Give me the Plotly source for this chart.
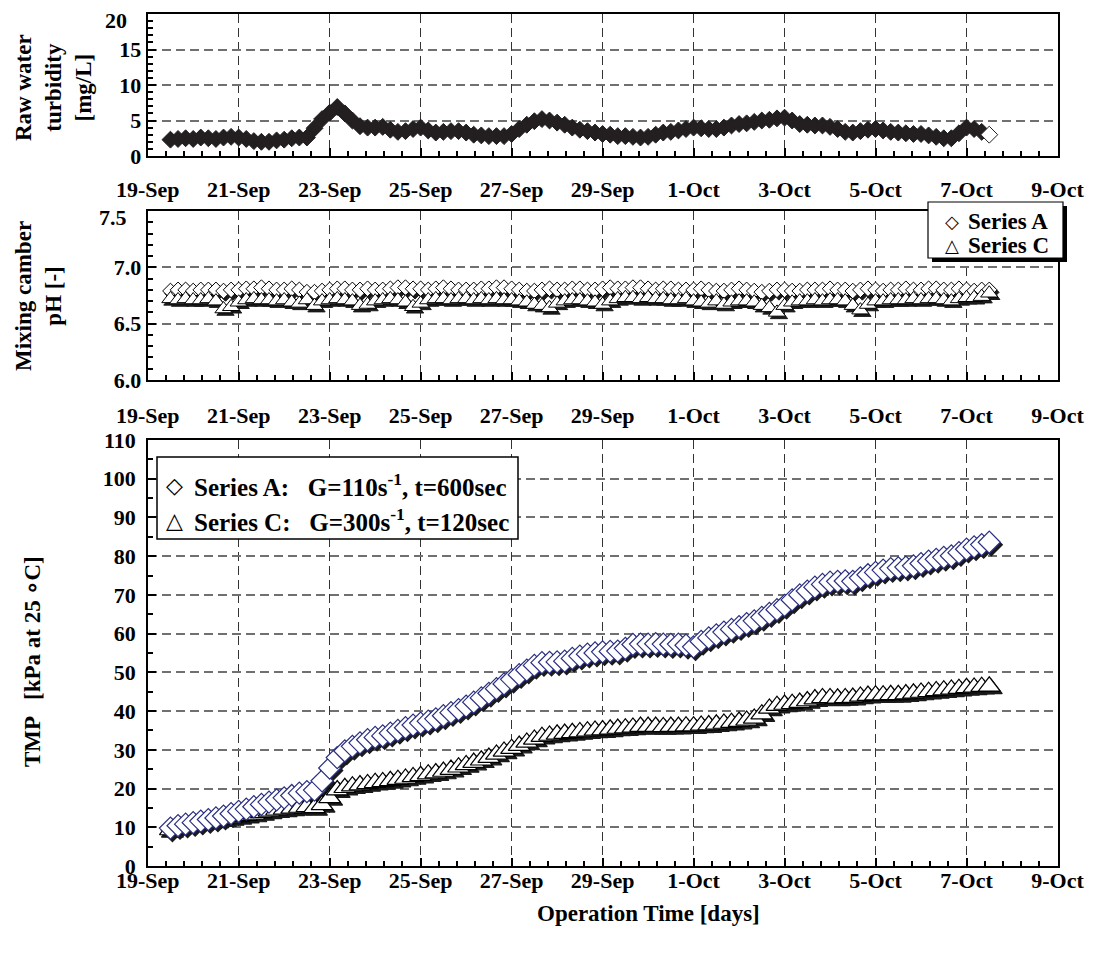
import pandas as pd
import plotly.graph_objects as go

# ---------------- data ----------------
start_time = "2008-09-19 12:00"   # first sample, 4-hourly readings
sample_step = "4h"

turbidity = [
    2.3, 2.4, 2.5, 2.4, 2.6, 2.5, 2.4, 2.6, 2.7, 2.6, 2.4,
    2.1, 2.0, 2.0, 2.2, 2.3, 2.5, 2.6, 2.6, 3.9, 5.2,
    6.1, 6.9, 6.0, 5.0, 4.2, 4.0, 4.0, 4.1, 3.7, 3.4,
    3.5, 3.8, 4.0, 3.6, 3.3, 3.4, 3.5, 3.5, 3.3, 3.0,
    2.9, 2.8, 2.8, 2.8, 3.1, 3.8, 4.4, 4.9, 5.2, 5.0,
    4.7, 4.4, 4.0, 3.7, 3.5, 3.3, 3.1, 3.0, 2.8, 2.8,
    2.7, 2.6, 2.7, 3.0, 3.3, 3.4, 3.6, 3.8, 4.0, 3.9,
    3.8, 3.8, 4.0, 4.3, 4.5, 4.6, 4.8, 5.0, 5.1, 5.3,
    5.4, 5.0, 4.5, 4.4, 4.3, 4.3, 4.1, 3.8, 3.4, 3.3,
    3.5, 3.7, 3.8, 3.6, 3.4, 3.3, 3.2, 3.1, 3.1, 2.9,
    2.7, 2.5, 2.5, 3.2, 4.0, 3.8, 3.4, 3.0,
]

ph_series_a = [
    6.79, 6.80, 6.80, 6.79, 6.80, 6.80, 6.80, 6.79, 6.80, 6.80, 6.81,
    6.81, 6.82, 6.81, 6.80, 6.80, 6.81, 6.80, 6.78, 6.78, 6.79,
    6.80, 6.81, 6.81, 6.80, 6.80, 6.81, 6.80, 6.80, 6.81, 6.82,
    6.82, 6.81, 6.81, 6.80, 6.81, 6.82, 6.81, 6.80, 6.80, 6.80,
    6.81, 6.81, 6.82, 6.82, 6.81, 6.80, 6.79, 6.79, 6.80, 6.81,
    6.80, 6.80, 6.81, 6.81, 6.80, 6.80, 6.81, 6.82, 6.81, 6.81,
    6.82, 6.82, 6.81, 6.80, 6.81, 6.81, 6.80, 6.80, 6.80, 6.81,
    6.80, 6.79, 6.79, 6.80, 6.81, 6.80, 6.79, 6.78, 6.79, 6.80,
    6.80, 6.79, 6.79, 6.80, 6.80, 6.80, 6.81, 6.80, 6.80, 6.79,
    6.80, 6.81, 6.80, 6.79, 6.80, 6.80, 6.81, 6.80, 6.80, 6.81,
    6.81, 6.80, 6.80, 6.81, 6.80, 6.79, 6.80, 6.80,
]

ph_series_c = [
    6.72, 6.71, 6.72, 6.71, 6.71, 6.72, 6.70, 6.63, 6.65, 6.69, 6.71,
    6.72, 6.71, 6.71, 6.70, 6.71, 6.69, 6.68, 6.71, 6.66, 6.70,
    6.71, 6.72, 6.71, 6.70, 6.66, 6.67, 6.70, 6.71, 6.72, 6.71,
    6.69, 6.65, 6.68, 6.71, 6.72, 6.72, 6.71, 6.72, 6.72, 6.71,
    6.72, 6.71, 6.72, 6.71, 6.71, 6.70, 6.69, 6.67, 6.66, 6.64,
    6.68, 6.70, 6.71, 6.71, 6.70, 6.69, 6.67, 6.70, 6.72, 6.73,
    6.73, 6.72, 6.73, 6.72, 6.72, 6.71, 6.71, 6.72, 6.70, 6.69,
    6.68, 6.70, 6.67, 6.69, 6.70, 6.70, 6.69, 6.66, 6.64, 6.60,
    6.66, 6.69, 6.70, 6.70, 6.71, 6.70, 6.71, 6.71, 6.70, 6.66,
    6.62, 6.67, 6.70, 6.70, 6.71, 6.71, 6.71, 6.72, 6.71, 6.72,
    6.72, 6.71, 6.70, 6.72, 6.73, 6.73, 6.74, 6.77,
]

tmp_series_a = [
    9.8, 10.4, 10.8, 11.2, 11.6, 12.0, 12.4, 12.9, 13.5, 14.1, 14.7,
    15.3, 15.9, 16.5, 17.1, 17.6, 18.2, 18.8, 19.2, 19.6, 22.0,
    25.3, 28.0, 29.7, 30.9, 31.8, 32.6, 33.2, 33.6, 34.3, 35.0,
    35.7, 36.4, 36.9, 37.4, 38.0, 38.8, 39.6, 40.4, 41.3, 42.3,
    43.4, 44.6, 45.8, 47.0, 48.2, 49.4, 50.6, 51.8, 52.5, 52.6,
    52.7, 52.9, 53.6, 54.2, 54.7, 55.0, 55.3, 55.4, 55.5, 56.2,
    57.2, 57.3, 57.3, 57.4, 57.3, 57.2, 57.3, 57.0, 56.6, 58.0,
    58.9, 59.7, 60.4, 61.1, 61.8, 62.6, 63.3, 64.2, 65.2, 66.2,
    67.3, 68.7, 70.0, 71.0, 72.0, 72.7, 73.3, 73.5, 73.6, 73.5,
    74.4, 75.2, 75.8, 76.4, 76.8, 77.0, 77.2, 77.5, 78.1, 78.7,
    79.2, 79.7, 80.1, 80.9, 81.8, 82.4, 83.0, 83.6,
]

tmp_series_c = [
    9.3, 10.0, 10.6, 10.9, 11.2, 11.5, 11.8, 12.1, 12.4, 12.7, 13.0,
    13.3, 13.7, 14.1, 14.4, 14.6, 14.9, 15.1, 15.3, 15.0, 15.8,
    17.6, 19.6, 20.2, 20.6, 20.9, 21.2, 21.5, 21.7, 22.0, 22.3,
    22.6, 23.0, 23.3, 23.7, 24.0, 24.4, 24.9, 25.5, 26.1, 26.7,
    27.3, 28.0, 28.8, 29.6, 30.3, 31.1, 31.9, 32.7, 33.4, 33.7,
    34.0, 34.2, 34.4, 34.6, 34.8, 35.0, 35.1, 35.3, 35.5, 35.6,
    35.8, 36.0, 36.0, 36.0, 35.9, 36.0, 36.0, 36.1, 36.1, 36.3,
    36.4, 36.6, 36.8, 37.0, 37.3, 37.6, 38.1, 39.2, 40.7, 41.4,
    41.7, 41.9, 42.2, 42.6, 43.1, 43.4, 43.4, 43.3, 43.4, 43.5,
    43.8, 44.0, 44.1, 44.1, 44.2, 44.2, 44.4, 44.6, 44.8, 45.0,
    45.2, 45.4, 45.6, 45.8, 46.0, 46.1, 46.3, 46.4,
]

tick_dates = ["2008-09-19", "2008-09-21", "2008-09-23", "2008-09-25", "2008-09-27",
              "2008-09-29", "2008-10-01", "2008-10-03", "2008-10-05", "2008-10-07",
              "2008-10-09"]
tick_labels = ["19-Sep", "21-Sep", "23-Sep", "25-Sep", "27-Sep", "29-Sep",
               "1-Oct", "3-Oct", "5-Oct", "7-Oct", "9-Oct"]

turb_ticks = [0, 5, 10, 15, 20]
turb_tick_labels = ["0", "5", "10", "15", "20"]
ph_ticks = [6.0, 6.5, 7.0, 7.5]
ph_tick_labels = ["6.0", "6.5", "7.0", "7.5"]

times = pd.date_range(start_time, periods=len(tmp_series_a), freq=sample_step)

# ---------------- styling / layout ----------------
FONT = "Liberation Serif"
OFF = 8                      # page body margin in the browser
W, H = 1094 - 2 * OFF, 956 - 2 * OFF


def px(x):   # screen pixel column -> paper x
    return (x - OFF) / W


def py(y):   # screen pixel row -> paper y
    return 1 - (y - OFF) / H


X_LEFT, X_RIGHT = 147.7, 1057.5
PANELS = {"top": (14, 156), "mid": (211, 380), "bot": (440, 866)}
SHADOW_DX, SHADOW_DY = 2.0, 2.5   # drop-shadow offset of markers, in pixels
NBSP = "\u00a0"

x_start = pd.Timestamp(tick_dates[0])
x_end = pd.Timestamp(tick_dates[-1])
x_shift = (x_end - x_start) / (X_RIGHT - X_LEFT) * SHADOW_DX
shadow_xrange = [str(x_start - x_shift), str(x_end - x_shift)]

tickfont = dict(family=FONT, size=22, color="black", weight="bold")
DASH = "9px,5px"
SHADOW = "#1a1a1a"


def x_visible(anchor, standoff, overlay=None):
    d = dict(
        domain=[px(X_LEFT), px(X_RIGHT)], anchor=anchor,
        type="date", range=[tick_dates[0], tick_dates[-1]],
        tickmode="array", tickvals=tick_dates, ticktext=tick_labels,
        ticks="inside", ticklen=8, tickwidth=1.5, tickcolor="black",
        showline=True, linecolor="black", linewidth=2, mirror=True,
        showgrid=True, gridcolor="#333333", gridwidth=1, griddash=DASH,
        zeroline=False, tickfont=tickfont, ticklabelstandoff=standoff,
        ticklabeloverflow="allow", automargin=False,
        minor=dict(tick0=tick_dates[0], dtick=34560000, ticks="inside", ticklen=5,
                   tickwidth=1.5, tickcolor="black", showgrid=False),
    )
    if overlay:
        d["overlaying"] = overlay
    return d


def y_visible(panel, anchor, rng, dtick, minor_dtick, pad_spaces,
              tickvals=None, ticktext=None, overlay=None):
    top, bot = PANELS[panel]
    d = dict(
        domain=[py(bot), py(top)], anchor=anchor,
        range=rng, dtick=dtick, tick0=rng[0],
        ticks="inside", ticklen=8, tickwidth=1.5, tickcolor="black",
        showline=True, linecolor="black", linewidth=2, mirror=True,
        showgrid=True, gridcolor="#707070", gridwidth=1.5, griddash=DASH,
        zeroline=False, tickfont=tickfont, ticksuffix=NBSP * pad_spaces,
        ticklabeloverflow="allow", automargin=False,
        minor=dict(tick0=rng[0], dtick=minor_dtick, ticks="inside", ticklen=5,
                   tickwidth=1.5, tickcolor="black", showgrid=False),
    )
    if tickvals is not None:
        # the top label sits a little below the frame, so it is drawn separately
        d.update(tickmode="array", tickvals=tickvals,
                 ticktext=ticktext[:-1] + [""])
    if overlay:
        d["overlaying"] = overlay
    return d


def x_shadow(anchor):
    return dict(domain=[px(X_LEFT), px(X_RIGHT)], anchor=anchor, type="date",
                range=shadow_xrange, visible=False, automargin=False)


def y_shadow(panel, anchor, rng):
    top, bot = PANELS[panel]
    shift = (rng[1] - rng[0]) / (bot - top) * SHADOW_DY
    return dict(domain=[py(bot), py(top)], anchor=anchor,
                range=[rng[0] + shift, rng[1] + shift], visible=False, automargin=False)


RNG_TOP, RNG_MID, RNG_BOT = [0, 20], [6.0, 7.5], [0, 110]

fig = go.Figure()

# ---- top panel: raw water turbidity (x / y) ----
turb_colors = ["#231f20"] * (len(turbidity) - 1) + ["white"]
fig.add_trace(go.Scatter(
    x=times, y=turbidity, mode="markers", xaxis="x", yaxis="y",
    marker=dict(symbol="diamond", size=13, color=turb_colors,
                line=dict(color="#231f20", width=1))))

# ---- middle panel: pH; shadows on x2/y2, markers on x5/y5 ----
mid_styles = [(ph_series_a, "diamond", 12), (ph_series_c, "triangle-up", 15)]
for ys, sym, size in mid_styles:
    fig.add_trace(go.Scatter(
        x=times, y=ys, mode="markers", xaxis="x2", yaxis="y2",
        marker=dict(symbol=sym, size=size, color=SHADOW, line=dict(color=SHADOW, width=1))))
for ys, sym, size in mid_styles:
    fig.add_trace(go.Scatter(
        x=times, y=ys, mode="markers", xaxis="x5", yaxis="y5",
        marker=dict(symbol=sym, size=size, color="white", line=dict(color="black", width=1))))

# ---- bottom panel: TMP; shadows on x3/y3, markers on x4/y4 ----
bottom_styles = [(tmp_series_c, "triangle-up", 19, "black"),
                 (tmp_series_a, "diamond", 17, "#2a2f80")]
for ys, sym, size, edge in bottom_styles:
    fig.add_trace(go.Scatter(
        x=times, y=ys, mode="markers", xaxis="x3", yaxis="y3",
        marker=dict(symbol=sym, size=size, color=SHADOW, line=dict(color=SHADOW, width=1.2))))
for ys, sym, size, edge in bottom_styles:
    fig.add_trace(go.Scatter(
        x=times, y=ys, mode="markers", xaxis="x4", yaxis="y4",
        marker=dict(symbol=sym, size=size, color="white", line=dict(color=edge, width=1.2))))

fig.update_layout(
    width=W, height=H, autosize=False,
    margin=dict(l=0, r=0, t=0, b=0, pad=0, autoexpand=False),
    paper_bgcolor="white", plot_bgcolor="white",
    font=dict(family=FONT, color="black"),
    showlegend=False,
    xaxis=x_visible("y", 13),
    yaxis=y_visible("top", "x", RNG_TOP, 5, 1, 2, turb_ticks, turb_tick_labels),
    xaxis2=x_shadow("y2"),
    yaxis2=y_shadow("mid", "x2", RNG_MID),
    xaxis5=x_visible("y2", 15, overlay="x2"),
    yaxis5=y_visible("mid", "x2", RNG_MID, 0.5, 0.1, 2, ph_ticks, ph_tick_labels,
                     overlay="y2"),
    xaxis3=x_shadow("y3"),
    yaxis3=y_shadow("bot", "x3", RNG_BOT),
    xaxis4=x_visible("y3", -6, overlay="x3"),
    yaxis4=y_visible("bot", "x3", RNG_BOT, 10, 5, 1, overlay="y3"),
)

annotations = []
shapes = []


def note(text, x, y, size=23, family=FONT, angle=0, xanchor="center"):
    annotations.append(dict(
        text=text, x=px(x), y=py(y), xref="paper", yref="paper",
        xanchor=xanchor, yanchor="middle", showarrow=False, textangle=angle,
        font=dict(family=family, size=size, color="black")))


# top tick labels of the two upper panels (sitting just below the frame edge)
note("<b>" + turb_tick_labels[-1] + "</b>", 129, 20, size=22, xanchor="right")
note("<b>" + ph_tick_labels[-1] + "</b>", 129, 217, size=22, xanchor="right")

# axis titles
note("<b>Raw water<br>turbidity<br>[mg/L]</b>", 53, 88, angle=-90)
note("<b>Mixing camber<br>pH [-]</b>", 38, 296, angle=-90)
note("<b>TMP   [kPa at 25 ∘C]</b>", 32, 662, angle=-90)
note("<b>Operation Time [days]</b>", 648, 913)

# middle legend with drop shadow
shapes.append(dict(type="rect", xref="paper", yref="paper",
                   x0=px(932), x1=px(1067), y0=py(262), y1=py(206),
                   fillcolor="black", line=dict(width=0), layer="above"))
shapes.append(dict(type="rect", xref="paper", yref="paper",
                   x0=px(928), x1=px(1063), y0=py(258), y1=py(202),
                   fillcolor="white", line=dict(color="black", width=1.2), layer="above"))
for sym, name, yc in [("◇", "Series A", 221), ("△", "Series C", 245)]:
    note(sym, 952, yc, size=18, family="DejaVu Sans")
    note("<b>" + name + "</b>", 966, yc, size=23, xanchor="left")

# bottom legend
shapes.append(dict(type="rect", xref="paper", yref="paper",
                   x0=px(157), x1=px(518), y0=py(539), y1=py(457),
                   fillcolor="white", line=dict(color="black", width=1.5), layer="above"))
GAP = NBSP * 3
legend_rows = [
    ("◇", "Series A:" + GAP + "G=110s<sup>-1</sup>, t=600sec", 485),
    ("△", "Series C:" + GAP + "G=300s<sup>-1</sup>, t=120sec", 520),
]
for sym, label, yc in legend_rows:
    note("<b>" + sym + "</b>", 174, yc, size=22, family="DejaVu Sans")
    note("<b>" + label + "</b>", 192, yc, size=25, xanchor="left")

fig.update_layout(annotations=annotations, shapes=shapes)

fig.write_html("out.html")
